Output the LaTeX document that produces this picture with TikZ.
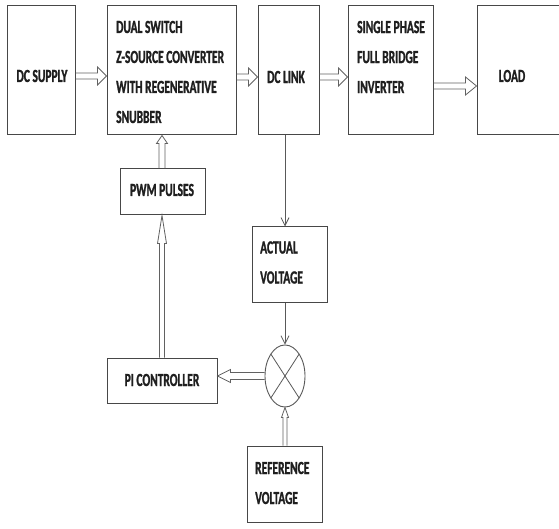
\documentclass[tikz,border=0pt]{standalone}
\usepackage{fontspec}
\newfontfamily\blockfont{Carlito}[FakeStretch=0.62, FakeBold=1.2]
\usetikzlibrary{shapes.geometric,arrows.meta,calc}
% hollow block arrow: from, to, shaft half width, head half width, head length
\newcommand\blockarr[5]{%
  \coordinate (ba-h) at ($(#2)!#5!(#1)$);
  \draw[arr] ($(#1)!#3!90:(#2)$) -- ($(ba-h)!#3!-90:(#1)$) -- ($(ba-h)!#4!-90:(#1)$)
    -- (#2) -- ($(ba-h)!#4!90:(#1)$) -- ($(ba-h)!#3!90:(#1)$) -- ($(#1)!#3!-90:(#2)$);
}
\begin{document}
\begin{tikzpicture}[x=1pt,y=-1pt,
  blk/.style 2 args={draw=black!72, line width=1pt, minimum width=#1, minimum height=#2, inner sep=0pt},
  txt/.style={font=\blockfont\bfseries\fontsize{18.5}{30}\selectfont, align=left, inner sep=0pt, text=black!88},
  arr/.style={draw=black!62, line width=0.8pt, line join=miter},
  sgl/.style={draw=black!65, line width=0.8pt},
  sglarrow/.style={sgl, -{Straight Barb[length=8pt,width=8pt]}}
]
\useasboundingbox (0,0) rectangle (559,529);
\fill[white] (0,0) rectangle (559,529);

% boxes
\node[blk={68pt}{129pt}]  (sup)  at (41,70.5) {};
\node[blk={129pt}{129pt}] (conv) at (171.5,70.5) {};
\node[blk={61pt}{129pt}]  (link) at (288.5,70.5) {};
\node[blk={85pt}{129pt}]  (inv)  at (390.5,70.5) {};
\node[blk={86pt}{129pt}]  (load) at (520,70.5) {};
\node[blk={85pt}{46pt}]   (pwm)  at (162.5,192) {};
\node[blk={75pt}{75pt}]   (act)  at (289.5,264.5) {};
\node[blk={110pt}{45pt}]  (pi)   at (162,380.5) {};
\node[blk={75pt}{76pt}]   (ref)  at (284.5,484) {};
\node[draw=black!65, line width=0.9pt, ellipse, minimum width=40pt, minimum height=62pt, inner sep=0pt] (sum) at (285,376) {};
\draw[sgl] ($(sum.center)+(-14.1,-21.9)$) -- ($(sum.center)+(14.1,21.9)$);
\draw[sgl] ($(sum.center)+(14.1,-21.9)$) -- ($(sum.center)+(-14.1,21.9)$);

% texts
\node[txt] (supt)  at (42,76) {DC SUPPLY};
\node[txt, anchor=west] (convt) at (116,72) {DUAL SWITCH\\Z-SOURCE CONVERTER\\WITH REGENERATIVE\\SNUBBER};
\node[txt] (linkt) at (286,77) {DC LINK};
\node[txt, anchor=west] (invt) at (357,57) {SINGLE PHASE\\FULL BRIDGE\\INVERTER};
\node[txt] (loadt) at (512,76) {LOAD};
\node[txt] (pwmt) at (162,190) {PWM PULSES};
\node[txt, anchor=west] (actt) at (260,262.5) {ACTUAL\\VOLTAGE};
\node[txt] (pit) at (162,380) {PI CONTROLLER};
\node[txt, anchor=west] (reft) at (255,483) {REFERENCE\\VOLTAGE};

% connector end points on the named nodes
\coordinate (a1s) at (sup.east |- 0,76);   \coordinate (a1e) at (conv.west |- 0,76);
\coordinate (a2s) at (conv.east |- 0,77);  \coordinate (a2e) at (link.west |- 0,77);
\coordinate (a3s) at (link.east |- 0,77);  \coordinate (a3e) at (inv.west |- 0,77);
\coordinate (a4s) at (inv.east |- 0,86);   \coordinate (a4e) at (load.west |- 0,86);
\coordinate (b1s) at (pwm.north -| pi.north); \coordinate (b1e) at (conv.south -| pi.north);
\coordinate (b2s) at (pi.north);           \coordinate (b2e) at (pwm.south -| pi.north);
\coordinate (c1s) at (sum.west);           \coordinate (c1e) at (pi.east |- sum.west);
\coordinate (c2s) at (ref.north -| sum.south); \coordinate (c2e) at (sum.south);

% top row
\blockarr{a1s}{a1e}{3pt}{9pt}{9pt}
\blockarr{a2s}{a2e}{3pt}{9pt}{9pt}
\blockarr{a3s}{a3e}{3pt}{9pt}{9pt}
\blockarr{a4s}{a4e}{3pt}{9pt}{11pt}

% feedback loop
\blockarr{b1s}{b1e}{3pt}{5.5pt}{8pt}
\blockarr{b2s}{b2e}{2.5pt}{4.5pt}{28pt}
\blockarr{c1s}{c1e}{3.5pt}{6.5pt}{13pt}
\blockarr{c2s}{c2e}{2pt}{3.5pt}{10pt}
\draw[sglarrow] (link.south -| sum.north) -- (act.north -| sum.north);
\draw[sglarrow] (act.south -| sum.north) -- (sum.north);
\end{tikzpicture}
\end{document}
